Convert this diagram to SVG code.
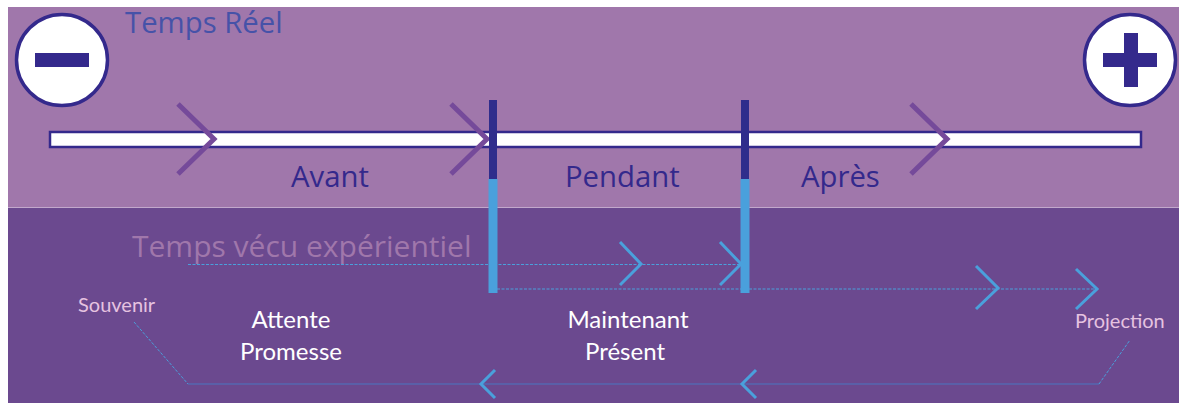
<svg xmlns="http://www.w3.org/2000/svg" width="1179" height="403" viewBox="0 0 1179 403">
<style>
.ui{font-family:"Open Sans","Noto Sans",sans-serif}
.cal{font-family:"Lato","Noto Sans",sans-serif}
.t{font-size:29.300px;fill:#34298c}
.w{font-size:24px;fill:#fff;text-anchor:middle}
.s{font-size:20px;fill:#e6c3e0}
.cp{fill:none;stroke:#754a9a;stroke-width:5}
.cb{fill:none;stroke:#4aa0dc;stroke-width:3}
.d{fill:none;stroke:#4aa0dc;stroke-width:1;stroke-dasharray:3 1.5}
.l{fill:none;stroke:#4a76c0;stroke-width:1}
.c{fill:#fff;stroke:#34298c;stroke-width:3.5}
.g{fill:#34298c}
</style>
<rect width="1179" height="403" fill="#fff"/>
<rect x="8" y="7" width="1171" height="200" fill="#a077ab"/>
<rect x="8" y="207" width="1171" height="1" fill="#c2a8cc"/>
<rect x="8" y="208" width="1171" height="195" fill="#6b498f"/>
<g id="timeline"><rect x="50" y="132" width="1091" height="15" fill="#fff" stroke="#34298c" stroke-width="2.500"/></g>
<g id="minus"><circle class="c" cx="62" cy="60" r="45.500"/><rect class="g" x="35" y="53" width="54" height="14"/></g>
<g id="plus"><circle class="c" cx="1130" cy="60" r="45.500"/><rect class="g" x="1103" y="53" width="54" height="14"/><rect class="g" x="1124" y="33" width="14" height="54"/></g>
<g id="connectors">
<path class="cp" d="M178 104L214 139L178 174"/>
<path class="cp" d="M451 104L487 139L451 174"/>
<path class="cp" d="M911 104L947 139L911 174"/>
<path class="d" d="M188 264.500H741"/>
<path class="d" d="M497 289H1095"/>
<path class="d" d="M134 322L188 384"/>
<path class="l" d="M188 384H1099"/>
<path class="d" d="M1099 384L1130 340"/>
<path class="cb" d="M620 242L641 264L620 285"/>
<path class="cb" d="M720 242L741 264L720 285"/>
<path class="cb" d="M976 266L998 288L976 309"/>
<path class="cb" d="M1076 269L1097 289L1076 309"/>
<path class="cb" d="M495 370L481 384L495 398"/>
<path class="cb" d="M756 370L742 384L756 398"/>
</g>
<g id="bar1"><rect x="489" y="100" width="8" height="80" fill="#2f2d8c"/><rect x="488.500" y="179" width="9" height="114" fill="#4aa0dc"/></g>
<g id="bar2"><rect x="741" y="100" width="8" height="80" fill="#2f2d8c"/><rect x="740.500" y="179" width="9" height="114" fill="#4aa0dc"/></g>
<text class="ui" x="125" y="33" font-size="29.300" fill="#4652a8">Temps Réel</text>
<text class="ui t" x="291" y="187">Avant</text>
<text class="ui t" x="565" y="187">Pendant</text>
<text class="ui t" x="801" y="187">Après</text>
<text class="ui" x="132" y="257" font-size="30" fill="#a077ab">Temps vécu expérientiel</text>
<text class="cal s" x="78" y="312">Souvenir</text>
<text class="cal s" x="1075" y="328">Projection</text>
<text class="cal w" x="291" y="328">Attente</text>
<text class="cal w" x="291" y="360">Promesse</text>
<text class="cal w" x="628" y="328">Maintenant</text>
<text class="cal w" x="625" y="360">Présent</text>
</svg>
